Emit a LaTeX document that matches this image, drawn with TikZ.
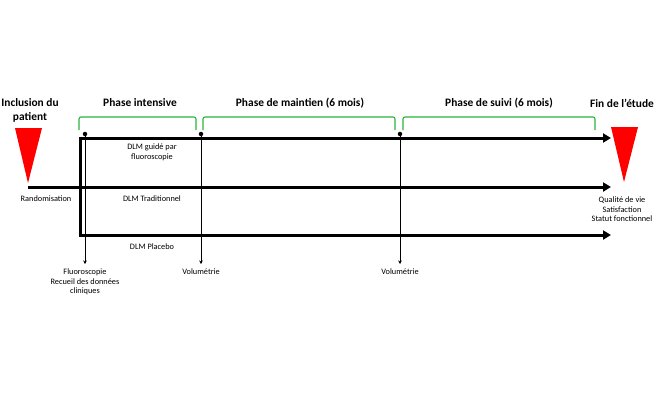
\documentclass[tikz,border=0pt]{standalone}
\usepackage{fontspec}
\setmainfont{Carlito}
\usetikzlibrary{arrows.meta}
\tikzset{
  thickline/.style={line width=3pt},
  thickarrow/.style={line width=3pt,-{Triangle[length=8pt,width=9pt]}},
  thinarrow/.style={line width=0.6pt,-{Stealth[length=3.5pt,width=3.5pt]}},
  brace/.style={draw={rgb,255:red,40;green,180;blue,60},line width=1.1pt,rounded corners=2pt},
  head/.style={font=\bfseries\fontsize{11.4}{14}\selectfont,align=center,inner sep=0pt},
  small/.style={font=\fontsize{8.3}{9.8}\selectfont,align=center},
  tri/.style={fill=red,draw=none},
  dotpt/.style={circle,fill=black,inner sep=0pt,minimum size=4.5pt}
}
\begin{document}
\begin{tikzpicture}[x=1pt,y=-1pt]
\useasboundingbox (0,0) rectangle (655,400);
% triangles
\fill[tri] (15,128) -- (42,128) -- (28,183) -- cycle;
\fill[tri] (611,127) -- (638,127) -- (624,182) -- cycle;
% coordinates
\coordinate (tl) at (80,138);
\coordinate (tr) at (611,138);
\coordinate (ml) at (28,187);
\coordinate (mr) at (611,187);
\coordinate (bl) at (80,235);
\coordinate (br) at (611,235);
\node[dotpt] (d1) at (85,134) {};
\node[dotpt] (d2) at (201,134) {};
\node[dotpt] (d3) at (400,134) {};
\coordinate (e1) at (85,264);
\coordinate (e2) at (201,264);
\coordinate (e3) at (400,264);
% lines
\draw[thickarrow] (tl) -- (tr);
\draw[thickarrow] (ml) -- (mr);
\draw[thickarrow] (bl) -- (br);
\draw[thickline] (80,136.5) -- (80,236.5);
\draw[thinarrow] (d1) -- (e1);
\draw[thinarrow] (d2) -- (e2);
\draw[thinarrow] (d3) -- (e3);
% braces
\draw[brace] (79,130) -- (79,117) -- (196,117) -- (196,130);
\draw[brace] (203,130) -- (203,117) -- (395,117) -- (395,130);
\draw[brace] (403,130) -- (403,117) -- (595,117) -- (595,130);
% headings
\node[head] (inc) at (30,110) {Inclusion du\\patient};
\node[head] (p1) at (140,103) {Phase intensive};
\node[head] (p2) at (300,103) {Phase de maintien (6 mois)};
\node[head] (p3) at (499,103) {Phase de suivi (6 mois)};
\node[head] (fin) at (622,103) {Fin de l’étude};
% small labels
\node[small] (g1) at (152,152) {DLM guidé par\\fluoroscopie};
\node[small] (rand) at (46,199) {Randomisation};
\node[small] (g2) at (152,199) {DLM Traditionnel};
\node[small] (g3) at (152,247) {DLM Placebo};
\node[small,anchor=north] (f1) at (85,265) {Fluoroscopie\\Recueil des données\\cliniques};
\node[small,anchor=north] (v1) at (201,265) {Volumétrie};
\node[small,anchor=north] (v2) at (400,265) {Volumétrie};
\node[small,anchor=north] (q) at (622,193) {Qualité de vie\\Satisfaction\\Statut fonctionnel};
\end{tikzpicture}
\end{document}
